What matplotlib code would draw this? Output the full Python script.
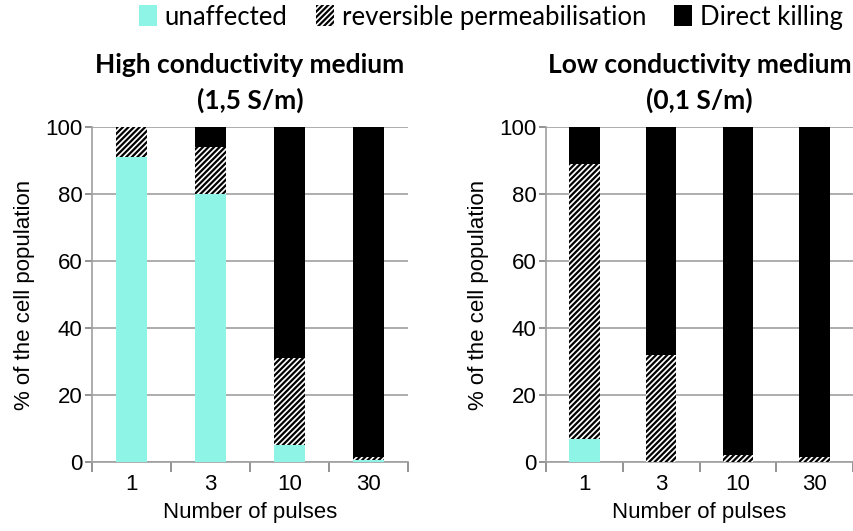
import numpy as np
import matplotlib.pyplot as plt
from matplotlib.patches import Patch

# Data
pulses = ['1', '3', '10', '30']
high_unaffected = [91, 80, 5, 0.5]
high_reversible = [9, 14, 26, 1]
high_killing = [0, 6, 69, 98.5]
low_unaffected = [7, 0, 0, 0]
low_reversible = [82, 32, 2, 1.5]
low_killing = [11, 68, 98, 98.5]

titles = ['High conductivity medium\n(1,5 S/m)', 'Low conductivity medium\n(0,1 S/m)']
CYAN = '#8ef5e6'
TITLE_FONT = ['Lato', 'DejaVu Sans']
AXIS_FONT = ['Liberation Sans', 'DejaVu Sans']

plt.rcParams['font.family'] = AXIS_FONT
plt.rcParams['hatch.linewidth'] = 1.6

fig = plt.figure(figsize=(8.54, 5.31), dpi=100)
ax_left = fig.add_axes([92 / 854, 1 - 462 / 531, 316 / 854, 335 / 531])
ax_right = fig.add_axes([546 / 854, 1 - 462 / 531, 307 / 854, 335 / 531])

panels = [
    (ax_left, high_unaffected, high_reversible, high_killing),
    (ax_right, low_unaffected, low_reversible, low_killing),
]

x = np.arange(len(pulses))
for (ax, unaff, rev, kill), title in zip(panels, titles):
    unaff = np.array(unaff)
    rev = np.array(rev)
    kill = np.array(kill)
    ax.bar(x, unaff, width=0.4, color=CYAN, edgecolor='none', zorder=3)
    ax.bar(x, rev, width=0.4, bottom=unaff, color='white', edgecolor='black',
           hatch='//////', linewidth=0, zorder=3)
    ax.bar(x, kill, width=0.4, bottom=unaff + rev, color='black', edgecolor='none', zorder=3)

    ax.set_xlim(-0.5, len(pulses) - 0.5)
    ax.set_ylim(0, 100)
    ax.yaxis.grid(True, color='#a0a0a0', linewidth=1.2, zorder=0)
    ax.set_axisbelow(True)

    # category ticks between bars, labels centered
    ax.set_xticks(np.arange(-0.5, len(pulses), 1.0))
    ax.set_xticklabels([])
    ax.set_xticks(x, minor=True)
    ax.set_xticklabels(pulses, minor=True, fontsize=16, family=AXIS_FONT)
    ax.set_yticks([0, 20, 40, 60, 80, 100], ['0', '20', '40', '60', '80', '100'],
                  fontsize=16, family=AXIS_FONT)
    ax.tick_params(axis='x', which='minor', length=0, pad=9)
    ax.tick_params(axis='x', which='major', length=7, color='#808080', width=1.2)
    ax.tick_params(axis='y', length=5, color='#808080', width=1.2, pad=2)

    for side in ['top', 'right']:
        ax.spines[side].set_visible(False)
    for side in ['left', 'bottom']:
        ax.spines[side].set_color('#a0a0a0')
        ax.spines[side].set_linewidth(1.2)

    ax.set_xlabel('Number of pulses', fontsize=16, family=AXIS_FONT, labelpad=5)
    ax.set_ylabel('% of the cell population', fontsize=16, family=AXIS_FONT, labelpad=7)
    ax.set_title(title, fontsize=19, fontweight='bold', family=TITLE_FONT,
                 pad=13, linespacing=1.5)

handles = [
    Patch(facecolor=CYAN, edgecolor='none', label='unaffected'),
    Patch(facecolor='white', edgecolor='black', hatch='//////', linewidth=0,
          label='reversible permeabilisation'),
    Patch(facecolor='black', edgecolor='none', label='Direct killing'),
]
fig.legend(handles=handles, loc='upper center', bbox_to_anchor=(0.575, 1.035), ncol=3,
           frameon=False, handlelength=0.7, handleheight=0.9,
           handletextpad=0.3, columnspacing=1.1,
           prop={'family': TITLE_FONT, 'size': 18.5})

fig.savefig('out.png', dpi=100)
